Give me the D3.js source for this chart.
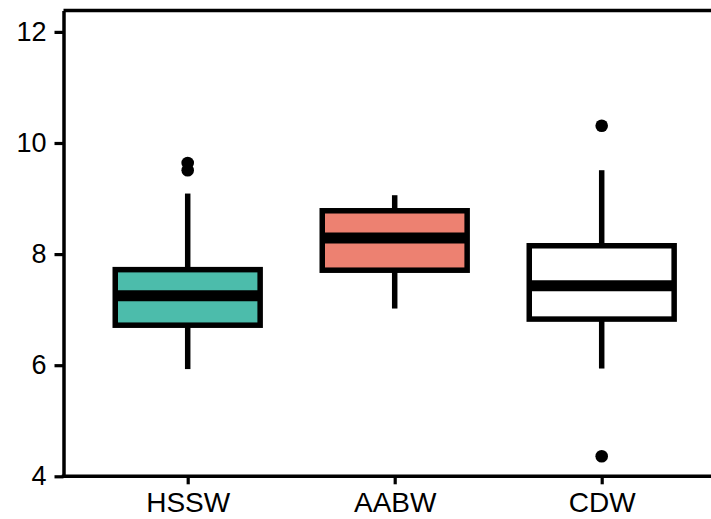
<!DOCTYPE html>
<meta charset="utf-8">
<style>
  body { margin: 0; background: #fff; }
  text { font-family: "Liberation Sans", Arial, sans-serif; fill: #000; }
</style>
<div id="chart"></div>
<script src="https://d3js.org/d3.v7.min.js"></script>
<script>

// data
const categories = ["HSSW", "AABW", "CDW"];
const q1 = [6.72, 7.71, 6.83];
const median = [7.25, 8.29, 7.43];
const q3 = [7.72, 8.78, 8.15];
const whiskerLow = [5.93, 7.02, 5.94];
const whiskerHigh = [9.09, 9.06, 9.51];
const outliers = [[9.64, 9.51], [], [10.31, 4.36]];
const fills = ["#00A087", "#E64B35", "#FFFFFF"];
const yTicks = [4, 6, 8, 10, 12];

let svgWidth = 711,
    svgHeight = 519,
    panelLeft = 63.5,
    panelTop = 10.5,
    panelBottom = 476.3;

let svg = d3.select("#chart")
  .append("svg")
    .attr("width", svgWidth)
    .attr("height", svgHeight);

// x: discrete positions, ggplot-style 0.6 expansion, panel runs past the right edge
let x = d3.scalePoint()
  .domain(categories)
  .range([panelLeft, panelLeft + 3.2 * 207])
  .padding(0.6);

let y = d3.scaleLinear()
  .domain([4, 12.385])
  .range([panelBottom, panelTop]);

let boxWidth = 0.7 * x.step();
let lw = 5.5;

let boxes = categories.map((c, i) => ({
  cat: c, q1: q1[i], med: median[i], q3: q3[i],
  lo: whiskerLow[i], hi: whiskerHigh[i], out: outliers[i], fill: fills[i]
}));

// panel border (top line; right side is off canvas)
svg.append("line")
  .attr("x1", panelLeft).attr("x2", svgWidth + 20)
  .attr("y1", panelTop).attr("y2", panelTop)
  .attr("stroke", "black").attr("stroke-width", 3.5);

let g = svg.selectAll(".box")
  .data(boxes)
  .enter()
  .append("g")
    .attr("class", "box");

// whiskers
g.append("line")
  .attr("x1", d => x(d.cat)).attr("x2", d => x(d.cat))
  .attr("y1", d => y(d.hi)).attr("y2", d => y(d.q3))
  .attr("stroke", "black").attr("stroke-width", lw);
g.append("line")
  .attr("x1", d => x(d.cat)).attr("x2", d => x(d.cat))
  .attr("y1", d => y(d.q1)).attr("y2", d => y(d.lo))
  .attr("stroke", "black").attr("stroke-width", lw);

// boxes
g.append("rect")
  .attr("x", d => x(d.cat) - boxWidth / 2)
  .attr("width", boxWidth)
  .attr("y", d => y(d.q3))
  .attr("height", d => y(d.q1) - y(d.q3))
  .attr("fill", d => d.fill)
  .attr("fill-opacity", 0.7)
  .attr("stroke", "black")
  .attr("stroke-width", lw)
  .attr("stroke-linejoin", "miter");

// medians
g.append("line")
  .attr("x1", d => x(d.cat) - boxWidth / 2).attr("x2", d => x(d.cat) + boxWidth / 2)
  .attr("y1", d => y(d.med)).attr("y2", d => y(d.med))
  .attr("stroke", "black").attr("stroke-width", 2 * lw);

// outliers
g.selectAll(".outlier")
  .data(d => d.out.map(v => ({cat: d.cat, v: v})))
  .enter()
  .append("circle")
    .attr("class", "outlier")
    .attr("cx", d => x(d.cat))
    .attr("cy", d => y(d.v))
    .attr("r", 6.3)
    .attr("fill", "black");

// y axis
let yAxis = svg.append("g")
  .attr("transform", "translate(" + panelLeft + ",0)")
  .call(d3.axisLeft(y).tickValues(yTicks).tickSize(9).tickPadding(8).tickSizeOuter(0));
yAxis.select(".domain").attr("stroke-width", 3.5);
yAxis.selectAll(".tick line").attr("stroke-width", 3.2);
yAxis.selectAll(".tick text").style("font-size", "27px");

// x axis
let xAxis = svg.append("g")
  .attr("transform", "translate(0," + panelBottom + ")")
  .call(d3.axisBottom(x).tickSize(8).tickPadding(7).tickSizeOuter(0));
xAxis.select(".domain").attr("stroke-width", 3.5).attr("d", "M" + (panelLeft - 1.75) + ",0H" + (svgWidth + 20));
xAxis.selectAll(".tick line").attr("stroke-width", 3.2);
xAxis.selectAll(".tick text").style("font-size", "28px").attr("dy", "0.74em");

svg.selectAll(".domain, .tick line").attr("stroke", "black");
</script>
